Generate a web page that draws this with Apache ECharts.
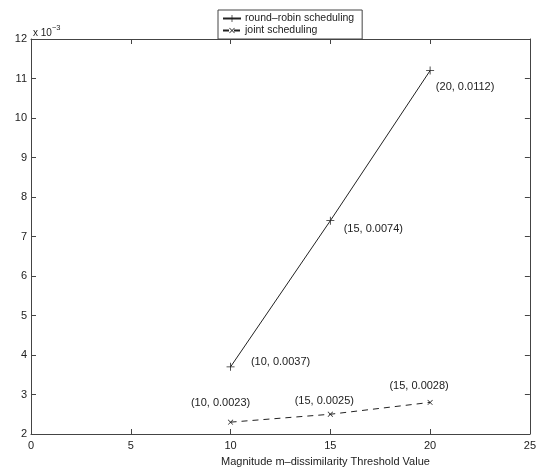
<!DOCTYPE html>
<html>
<head>
<meta charset="utf-8">
<script src="https://cdn.jsdelivr.net/npm/echarts@6/dist/echarts.min.js"></script>
<style>
  html, body { margin: 0; padding: 0; background: #fff; }
  #chart { width: 539px; height: 472px; }
</style>
</head>
<body>
<div id="chart"></div>
<script>
// Threshold values on the x axis
const thresholds = [10, 15, 20];
// Measured values for each scheduling scheme
const roundRobin = [0.0037, 0.0074, 0.0112];
const joint = [0.0023, 0.0025, 0.0028];
// Point annotations as printed next to each marker
const roundRobinLabels = ['(10, 0.0037)', '(15, 0.0074)', '(20, 0.0112)'];
const jointLabels = ['(10, 0.0023)', '(15, 0.0025)', '(15, 0.0028)'];
// Axis ticks
const xTicks = [0, 5, 10, 15, 20, 25];
const yTicks = [0.002, 0.003, 0.004, 0.005, 0.006, 0.007, 0.008, 0.009, 0.010, 0.011, 0.012];
const seriesNames = ['round\u2013robin scheduling', 'joint scheduling'];
const xAxisTitle = 'Magnitude m\u2013dissimilarity Threshold Value';

// Label placement around each marker (layout only)
const rrOffsets = [[50, -5], [43, 8], [35, 16]];
const jtOffsets = [[-10, -19], [-6, -13], [-11, -16]];

const FONT = '"Liberation Sans", Arial, Helvetica, sans-serif';
const INK = '#222';
const FRAME = '#444';

// Thin cross drawn as a filled path
const PLUS = 'path://M4.5,0 h1 v4.5 h4.5 v1 h-4.5 v4.5 h-1 v-4.5 h-4.5 v-1 h4.5 z';

function points(xs, ys, labels, offsets) {
  return xs.map((x, i) => ({
    value: [x, ys[i]],
    label: { formatter: labels[i], offset: offsets[i] }
  }));
}

const chart = echarts.init(document.getElementById('chart'), null, { renderer: 'canvas' });

const baseAxis = {
  axisLine: { show: true, onZero: false, lineStyle: { color: FRAME, width: 1 } },
  axisTick: { show: true, inside: true, length: 5, lineStyle: { color: FRAME } },
  splitLine: { show: false }
};

chart.setOption({
  animation: false,
  backgroundColor: '#fff',
  textStyle: { fontFamily: FONT },
  grid: { left: 31, right: 4, top: 39, bottom: 36 },
  legend: {
    orient: 'vertical',
    left: 218,
    top: 10,
    width: 150,
    padding: [3, 8, 3, 4],
    itemGap: 1,
    itemWidth: 18,
    itemHeight: 9,
    backgroundColor: '#fff',
    borderColor: FRAME,
    borderWidth: 1,
    textStyle: { fontFamily: FONT, fontSize: 10.5, color: INK, padding: [0, 0, 0, -1] },
    data: seriesNames
  },
  xAxis: [
    Object.assign({}, baseAxis, {
      type: 'value', min: 0, max: 25, interval: 5, position: 'bottom',
      name: xAxisTitle, nameLocation: 'middle', nameGap: 22,
      nameTextStyle: { fontFamily: FONT, fontSize: 11, color: INK, padding: [0, 0, 0, 90] },
      axisLabel: { fontFamily: FONT, fontSize: 11, color: INK, margin: 6 }
    }),
    Object.assign({}, baseAxis, {
      type: 'value', min: 0, max: 25, interval: 5, position: 'top',
      axisLabel: { show: false }
    })
  ],
  yAxis: [
    Object.assign({}, baseAxis, {
      type: 'value', min: 0.002, max: 0.012, interval: 0.001, position: 'left',
      axisLabel: {
        fontFamily: FONT, fontSize: 11, color: INK, margin: 4,
        formatter: v => String(Math.round(v * 1000))
      }
    }),
    Object.assign({}, baseAxis, {
      type: 'value', min: 0.002, max: 0.012, interval: 0.001, position: 'right',
      axisLabel: { show: false }
    })
  ],
  graphic: [{
    type: 'text',
    left: 33,
    top: 24,
    style: {
      text: '{b|x 10}{s|\u22123}',
      rich: {
        b: { fontFamily: FONT, fontSize: 10, fill: INK, padding: [6, 0, 0, 0] },
        s: { fontFamily: FONT, fontSize: 7.5, fill: INK, padding: [0, 0, 4, 0] }
      }
    }
  }],
  series: [
    {
      name: seriesNames[0],
      type: 'line',
      xAxisIndex: 0, yAxisIndex: 0,
      data: points(thresholds, roundRobin, roundRobinLabels, rrOffsets),
      symbol: PLUS,
      symbolSize: 8,
      showAllSymbol: true,
      itemStyle: { color: INK },
      lineStyle: { color: INK, width: 1 },
      label: { show: true, position: 'inside', fontFamily: FONT, fontSize: 11, color: INK },
      z: 3
    },
    {
      name: seriesNames[1],
      type: 'line',
      xAxisIndex: 0, yAxisIndex: 0,
      data: points(thresholds, joint, jointLabels, jtOffsets),
      symbol: PLUS,
      symbolSize: 7,
      symbolRotate: 45,
      showAllSymbol: true,
      itemStyle: { color: INK },
      lineStyle: { color: INK, width: 1, type: [6, 5] },
      label: { show: true, position: 'inside', fontFamily: FONT, fontSize: 11, color: INK },
      z: 3
    }
  ]
});
</script>
</body>
</html>
